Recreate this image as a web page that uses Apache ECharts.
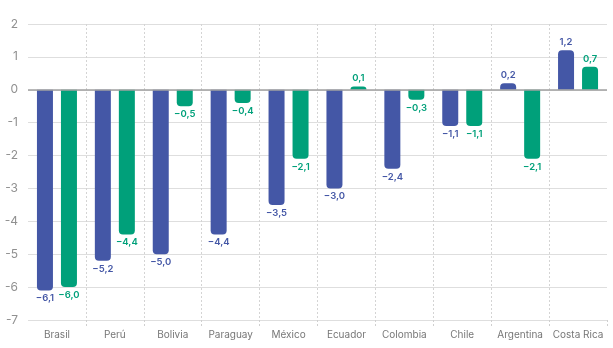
<!DOCTYPE html>
<html><head><meta charset="utf-8">
<script src="https://cdn.jsdelivr.net/npm/echarts@6/dist/echarts.min.js"></script>
<style>html,body{margin:0;padding:0;background:#fff}#c{width:613px;height:348px}</style>
</head><body><div id="c"></div>
<script>
const categories = ['Brasil','Perú','Bolivia','Paraguay','México','Ecuador','Colombia','Chile','Argentina','Costa Rica'];
const seriesA = [-6.1,-5.2,-5.0,-4.4,-3.5,-3.0,-2.4,-1.1,0.2,1.2];
const seriesB = [-6.0,-4.4,-0.5,-0.4,-2.1,0.1,-0.3,-1.1,-2.1,0.7];
const yTicks = [-7,-6,-5,-4,-3,-2,-1,0,1,2];

const BLUE = '#4457A6', GREEN = '#00A07A';
const fmt = v => (v < 0 ? '\u2212' : '') + Math.abs(v).toFixed(1).replace('.', ',');
function mk(vals, color){
  return vals.map(v => ({
    value: v,
    itemStyle: {color: color, borderRadius: v < 0 ? [0,0,4,4] : [4,4,0,0]},
    label: {show: true, position: v < 0 ? 'bottom' : 'top', distance: 3, color: color,
      fontSize: 9.5, fontWeight: 600, fontFamily: 'Inter', formatter: p => fmt(p.value)}
  }));
}
const inner = i => i > 0 && i < categories.length;
const chart = echarts.init(document.getElementById('c'));
chart.setOption({
  animation: false,
  grid: {left: 28, right: 6, top: 24, bottom: 28},
  xAxis: {
    type: 'category', data: categories,
    axisLine: {show: false, onZero: false},
    axisTick: {show: true, length: 8, lineStyle: {color: '#cfcfcf', type: [2,2]}, interval: inner},
    axisLabel: {color: '#777', fontSize: 10, fontFamily: 'Inter', margin: 10, interval: 0},
    splitLine: {show: true, showMinLine: false, showMaxLine: false, lineStyle: {color: '#d4d4d4', type: [2,2]}, interval: 0}
  },
  yAxis: {
    type: 'value', min: yTicks[0], max: yTicks[yTicks.length-1], interval: 1,
    axisLine: {show: false}, axisTick: {show: false},
    axisLabel: {color: '#909090', fontSize: 12, fontFamily: 'Inter', margin: 10},
    splitLine: {lineStyle: {color: '#dedede', width: 1}}
  },
  series: [
    {type: 'bar', data: mk(seriesA, BLUE), barWidth: 16, barGap: '50%',
     markLine: {silent: true, symbol: 'none', label: {show: false},
       lineStyle: {color: '#a0a0a0', type: 'solid', width: 1.5}, data: [{yAxis: 0}]}},
    {type: 'bar', data: mk(seriesB, GREEN), barWidth: 16, barGap: '50%'}
  ]
});
</script></body></html>
